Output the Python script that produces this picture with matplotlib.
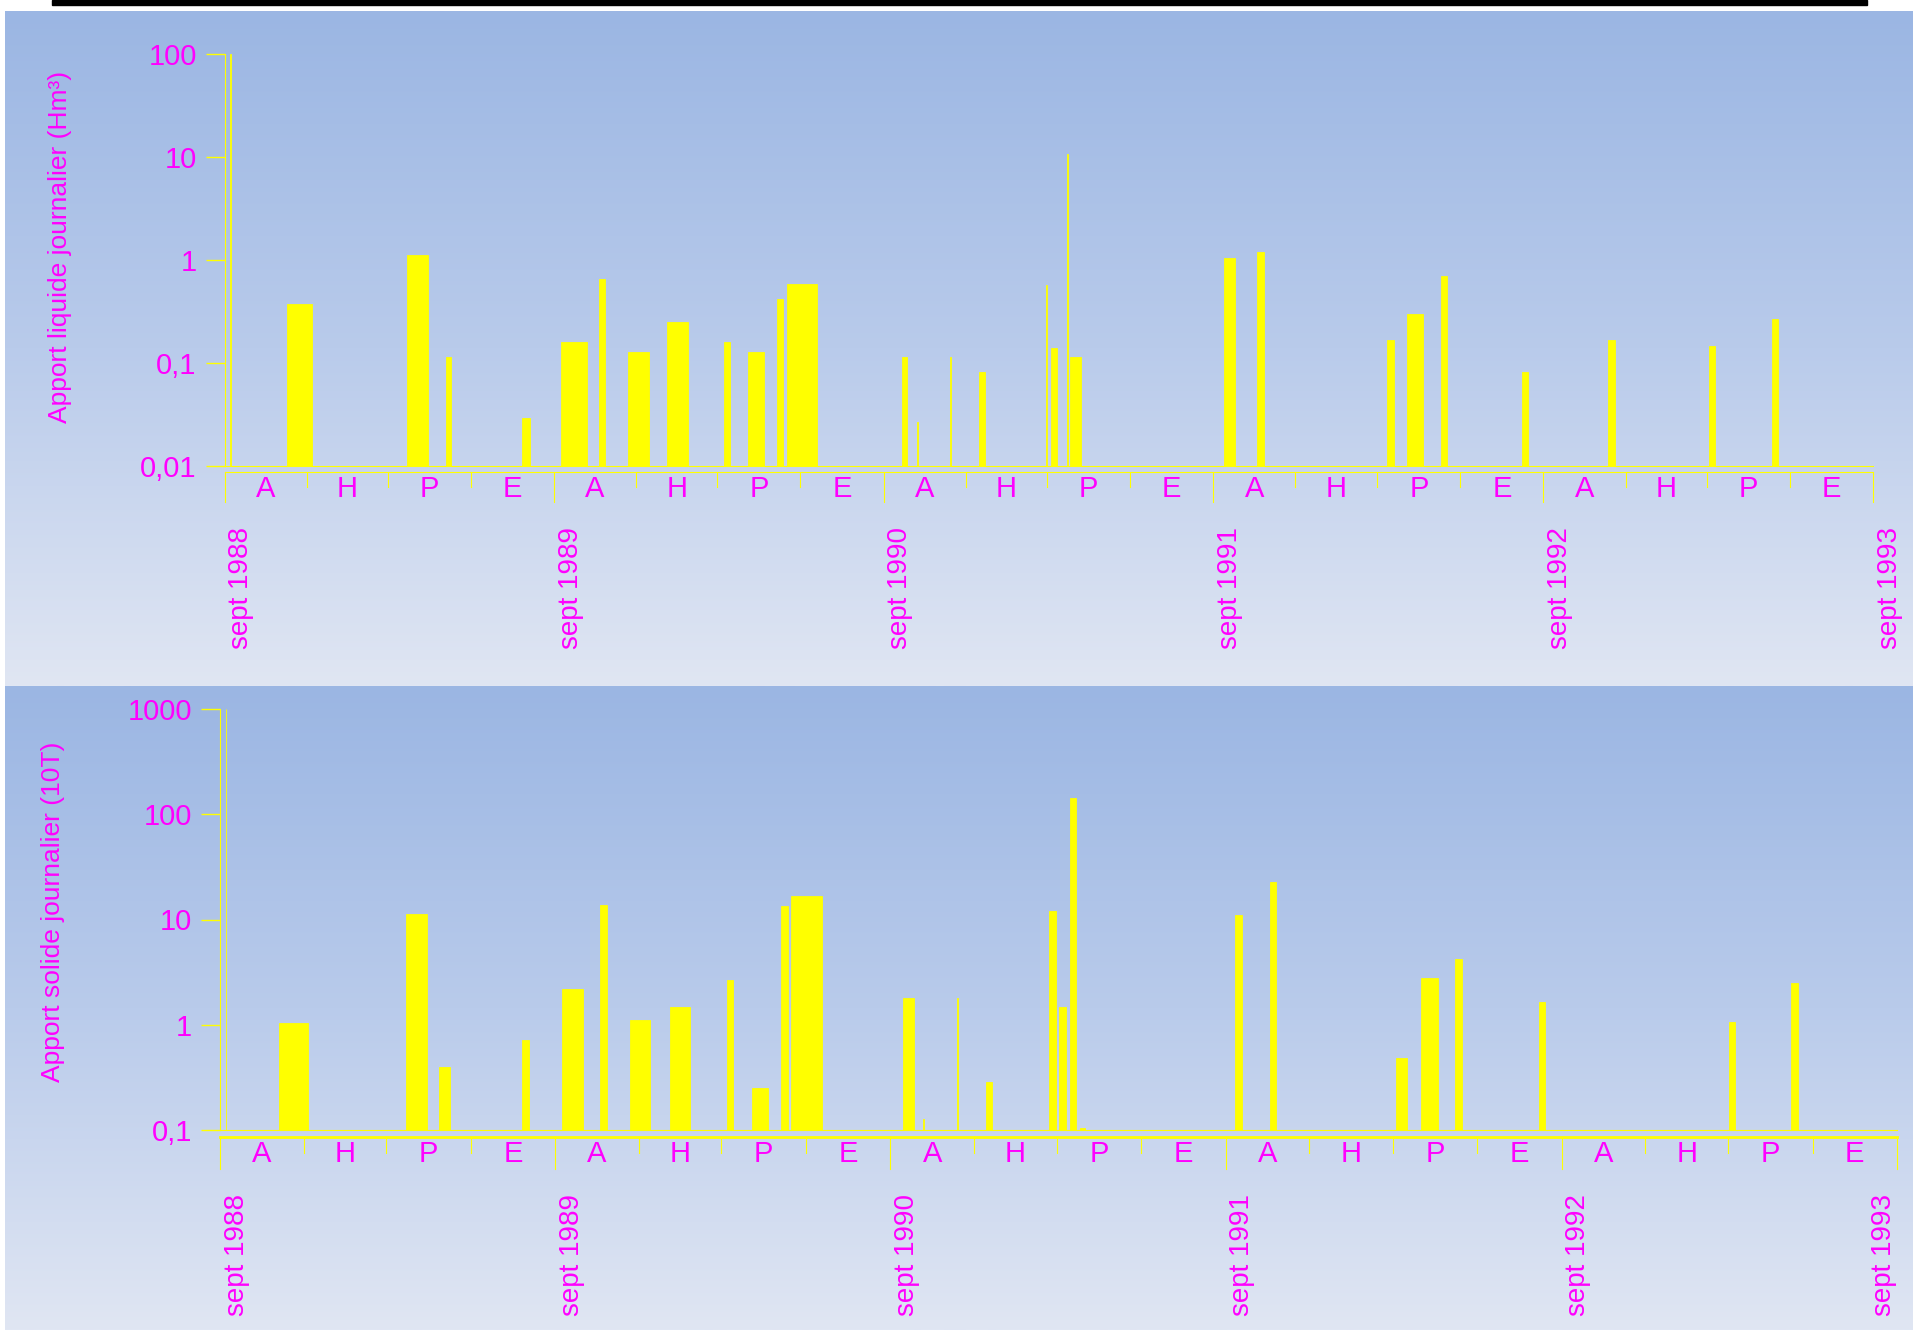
import numpy as np
import matplotlib
matplotlib.use('Agg')
import matplotlib.pyplot as plt
from matplotlib.colors import LinearSegmentedColormap
from matplotlib.patches import Rectangle
from matplotlib.ticker import NullLocator
from matplotlib.transforms import blended_transform_factory

plt.rcParams['font.family'] = ['Liberation Sans', 'DejaVu Sans']

# apport liquide journalier (Hm3) : debut en jours depuis le 1er sept 1988, duree en jours
liq_debut = [6, 69, 202, 245, 330, 373, 415, 447, 490, 553,
             580, 612, 623, 750, 767, 804, 836, 910, 915, 933,
             937, 1107, 1144, 1288, 1310, 1347, 1437, 1533, 1644, 1714]
liq_duree = [1, 28, 23, 6, 8, 28, 7, 23, 23, 7,
             18, 7, 33, 6, 1, 1, 6, 1, 7, 1,
             12, 12, 7, 7, 17, 7, 7, 7, 7, 7]
liq_val = [100, 0.37, 1.12, 0.114, 0.029, 0.16, 0.65, 0.128, 0.25, 0.158,
           0.128, 0.42, 0.58, 0.114, 0.027, 0.114, 0.082, 0.57, 0.138, 10.6,
           0.114, 1.05, 1.19, 0.167, 0.30, 0.70, 0.082, 0.167, 0.146, 0.264]

# apport solide journalier (10T)
sol_debut = [6, 64, 202, 238, 329, 372, 414, 446, 490, 552,
             579, 611, 622, 744, 766, 803, 834, 903, 914, 925,
             936, 1105, 1143, 1281, 1308, 1345, 1436, 1643, 1711]
sol_duree = [1, 32, 23, 12, 7, 23, 7, 22, 22, 7,
             18, 8, 34, 12, 1, 1, 7, 7, 7, 7,
             6, 8, 7, 12, 18, 7, 7, 7, 7]
sol_val = [1000, 1.05, 11.2, 0.395, 0.72, 2.19, 13.7, 1.11, 1.47, 2.65,
           0.248, 13.4, 16.7, 1.78, 0.126, 1.78, 0.284, 12.0, 1.46, 142,
           0.105, 11.0, 22.8, 0.48, 2.78, 4.18, 1.66, 1.06, 2.47]

saisons = ['A', 'H', 'P', 'E']
annees = ['sept 1988', 'sept 1989', 'sept 1990', 'sept 1991', 'sept 1992', 'sept 1993']

liq_ticks = [0.01, 0.1, 1, 10, 100]
liq_ticklabels = ['0,01', '0,1', '1', '10', '100']
sol_ticks = [0.1, 1, 10, 100, 1000]
sol_ticklabels = ['0,1', '1', '10', '100', '1000']

JAUNE = '#ffff00'
MAGENTA = '#ff00ff'
W, H = 1913, 1330

# bornes des trimestres (en jours depuis le 1er sept 1988)
t0 = np.datetime64('1988-09-01')
mois = np.arange(np.datetime64('1988-09'), np.datetime64('1993-10'), 3)
bornes = (mois.astype('datetime64[D]') - t0).astype(int)
n_jours = bornes[-1]

fig = plt.figure(figsize=(W / 100, H / 100), dpi=100)
fig.patch.set_facecolor('white')


def fy(p):
    return 1 - p / H


# fond en degrade
bg = fig.add_axes([0, 0, 1, 1], zorder=-10)
cmap = LinearSegmentedColormap.from_list('fond', ['#9bb6e3', '#b9cbeb', '#e0e6f3'])
grad = np.linspace(0, 1, 256).reshape(-1, 1)
bg.imshow(grad, cmap=cmap, aspect='auto', extent=(5, W, 686, 11), origin='upper')
bg.imshow(grad, cmap=cmap, aspect='auto', extent=(5, W, H, 686), origin='upper')
bg.add_patch(Rectangle((52, 0), 1815, 4.5, color='black'))
bg.set_xlim(0, W)
bg.set_ylim(H, 0)
bg.axis('off')


def panneau(rect, debut, duree, val, ymin, ymax, ticks, ticklabels, ylabel, ylab_xy,
            y_ligne, lw_ligne, y_court, y_long, y_lettres, y_annees):
    ax = fig.add_axes(rect)
    ax.set_facecolor('none')
    ax.set_yscale('log')
    ax.bar(debut, np.array(val) - ymin, width=duree, bottom=ymin, align='edge',
           color=JAUNE, edgecolor=JAUNE, linewidth=0.6)
    ax.set_xlim(0, n_jours)
    ax.set_ylim(ymin, ymax)
    ax.set_xticks([])
    ax.set_yticks(ticks)
    ax.set_yticklabels(ticklabels)
    ax.yaxis.set_minor_locator(NullLocator())
    ax.tick_params(axis='y', colors=JAUNE, length=14, width=1, labelcolor=MAGENTA,
                   labelsize=21, pad=6)
    for s in ['top', 'right']:
        ax.spines[s].set_visible(False)
    for s in ['left', 'bottom']:
        ax.spines[s].set_color(JAUNE)
        ax.spines[s].set_linewidth(0.8)

    # bande des saisons sous le graphique
    tr = blended_transform_factory(ax.transData, fig.transFigure)
    ax.plot([0, n_jours], [fy(y_ligne)] * 2, transform=tr, clip_on=False,
            color=JAUNE, lw=lw_ligne)
    for i, b in enumerate(bornes):
        bas = y_long if i % 4 == 0 else y_court
        ax.plot([b, b], [fy(y_ligne), fy(bas)], transform=tr, clip_on=False,
                color=JAUNE, lw=0.8)
    for i in range(len(bornes) - 1):
        xm = (bornes[i] + bornes[i + 1]) / 2
        ax.text(xm, fy(y_lettres), saisons[i % 4], transform=tr, ha='center',
                va='center', color=MAGENTA, fontsize=21)
    x0, x1 = rect[0] * W, (rect[0] + rect[2]) * W
    for i, b in enumerate(bornes[::4]):
        px = x0 + (x1 - x0) * b / n_jours
        # le dernier libelle est ramene a gauche du trait s'il deborde
        if px + 30 > W:
            ax.text(b, fy(y_annees), annees[i], transform=tr, rotation=90,
                    ha='right', va='top', color=MAGENTA, fontsize=20)
        else:
            ax.text(b + 4, fy(y_annees), annees[i], transform=tr, rotation=90,
                    ha='left', va='top', color=MAGENTA, fontsize=20)

    fig.text(ylab_xy[0] / W, fy(ylab_xy[1]), ylabel, rotation=90, ha='center',
             va='center', color=MAGENTA, fontsize=19)
    return ax


panneau([224.5 / W, fy(466), 1648.5 / W, 412.4 / H], liq_debut, liq_duree, liq_val,
        0.01, 100, liq_ticks, liq_ticklabels, 'Apport liquide journalier (Hm³)', (60, 247),
        472, 0.8, 487, 502, 489, 527)

panneau([220 / W, fy(1130), 1677 / W, 421 / H], sol_debut, sol_duree, sol_val,
        0.1, 1000, sol_ticks, sol_ticklabels, 'Apport solide journalier (10T)', (53, 912),
        1137, 2.0, 1153, 1169, 1154, 1194)

fig.savefig('out.png', dpi=100)
